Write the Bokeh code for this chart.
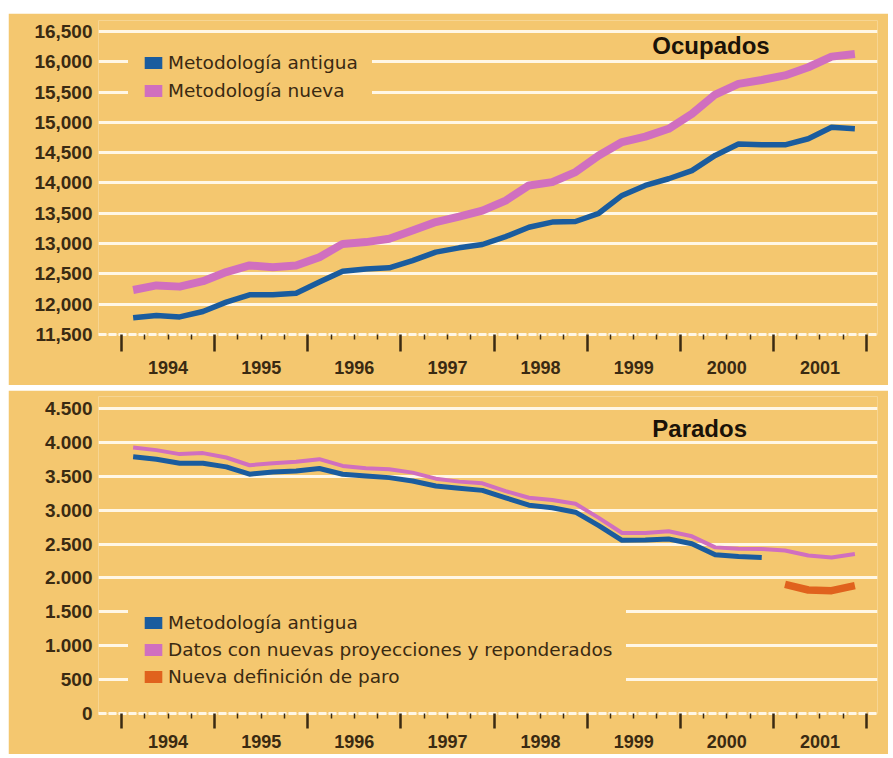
from bokeh.plotting import figure
from bokeh.models import (FixedTicker, LinearAxis, Range1d, Legend, LegendItem,
                          Label, Spacer, Grid)
from bokeh.layouts import column, row
from bokeh.embed import file_html
from bokeh.resources import INLINE

# ---------------- data ----------------
years = list(range(1994, 2002))
quarters = [(y, q) for y in years for q in range(1, 5)]          # 1994T1 .. 2001T4

ocup_antigua = [11775, 11815, 11790, 11880, 12035, 12155, 12155, 12180,
                12365, 12545, 12580, 12600, 12720, 12860, 12930, 12985,
                13115, 13270, 13355, 13365, 13500, 13795, 13960, 14070,
                14205, 14455, 14645, 14630, 14630, 14730, 14920, 14895]
ocup_nueva = [12235, 12310, 12290, 12380, 12530, 12640, 12610, 12640,
              12775, 12995, 13025, 13080, 13215, 13355, 13445, 13545,
              13710, 13960, 14015, 14180, 14455, 14675, 14765, 14895,
              15140, 15460, 15635, 15700, 15775, 15910, 16085, 16130]

par_antigua = [3787, 3752, 3693, 3693, 3639, 3530, 3564, 3579,
               3614, 3530, 3505, 3480, 3431, 3356, 3322, 3292,
               3183, 3074, 3035, 2970, 2772, 2555, 2560, 2574,
               2505, 2342, 2317, 2302]                             # hasta 2000T4
par_nueva = [3926, 3886, 3827, 3842, 3777, 3663, 3693, 3713,
             3752, 3653, 3619, 3604, 3554, 3465, 3421, 3396,
             3282, 3183, 3149, 3094, 2886, 2663, 2663, 2688,
             2614, 2451, 2431, 2426, 2406, 2332, 2302, 2352]
par_nueva_def = [1906, 1822, 1812, 1886]                          # 2001T1 .. 2001T4

ocup_ticks = [11500, 12000, 12500, 13000, 13500, 14000, 14500, 15000, 15500, 16000, 16500]
ocup_tick_labels = ["11,500", "12,000", "12,500", "13,000", "13,500", "14,000",
                    "14,500", "15,000", "15,500", "16,000", "16,500"]
par_ticks = [0, 500, 1000, 1500, 2000, 2500, 3000, 3500, 4000, 4500]
par_tick_labels = ["0", "500", "1.000", "1.500", "2.000", "2.500", "3.000",
                   "3.500", "4.000", "4.500"]

leg_ocup = ["Metodología antigua", "Metodología nueva"]
leg_par = ["Metodología antigua", "Datos con nuevas proyecciones y reponderados",
           "Nueva definición de paro"]

# ---------------- style ----------------
BG = "#F4C76F"
GRID = "#FFF7E6"
TXT = "#3A2A12"
BLUE = "#1A5C9E"
PINK = "#D06FBF"
ORANGE = "#E0621D"
NAN = float("nan")

xq = [y + (q - 0.5) / 4 for (y, q) in quarters]
year_bounds = years + [years[-1] + 1]
minor_bounds = [y + f for y in years for f in (0.25, 0.5, 0.75)]
mid_years = [y + 0.5 for y in years]
X0, X1 = 1993.753, 2002.118


def make_panel(height, ymin, ymax, ticks, tick_labels, bt, bb, tick_len, lab_standoff):
    p = figure(width=880, height=height, x_range=Range1d(X0, X1),
               y_range=Range1d(ymin, ymax), output_backend="svg",
               toolbar_location=None, x_axis_type=None, y_axis_type=None,
               min_border_left=90, min_border_right=11, min_border_top=bt,
               min_border_bottom=bb, background_fill_color=BG,
               border_fill_color=BG, outline_line_color=None)
    grid = Grid(dimension=1, ticker=FixedTicker(ticks=ticks),
                grid_line_color=GRID, grid_line_width=2.8)
    p.add_layout(grid)

    yax = LinearAxis(ticker=FixedTicker(ticks=ticks),
                     major_label_overrides=dict(zip(ticks, tick_labels)),
                     axis_line_color=None, major_tick_line_color=None,
                     minor_tick_line_color=None, major_label_standoff=0,
                     major_label_text_font="Liberation Sans",
                     major_label_text_font_style="bold",
                     major_label_text_font_size="19px",
                     major_label_text_color=TXT)
    p.add_layout(yax, "left")

    tax = LinearAxis(ticker=FixedTicker(ticks=year_bounds, minor_ticks=minor_bounds),
                     major_tick_out=tick_len, major_tick_in=0,
                     minor_tick_out=5, minor_tick_in=0,
                     major_tick_line_color=TXT, major_tick_line_width=2.5,
                     minor_tick_line_color=TXT, minor_tick_line_width=1.5,
                     axis_line_color=GRID, axis_line_width=2.8,
                     axis_line_dash="8 2",
                     major_label_text_color=None,
                     major_label_text_font_size="1px", major_label_standoff=0)
    p.add_layout(tax, "below")

    lax = LinearAxis(ticker=FixedTicker(ticks=mid_years, minor_ticks=[]),
                     major_label_overrides={m: str(y) for m, y in zip(mid_years, years)},
                     major_tick_out=0, major_tick_in=0, major_tick_line_color=None,
                     minor_tick_line_color=None, axis_line_color=None,
                     major_label_standoff=lab_standoff,
                     major_label_text_font="Liberation Sans",
                     major_label_text_font_style="bold",
                     major_label_text_font_size="18px",
                     major_label_text_color=TXT)
    p.add_layout(lax, "below")
    return p


def add_legend(p, labels, colors, loc, spacing):
    items = []
    for lab, c in zip(labels, colors):
        # legend-only swatch: NaN geometry draws nothing inside the plot
        r = p.quad(left=[NAN], right=[NAN], top=[NAN], bottom=[NAN],
                   fill_color=c, line_color=None)
        items.append(LegendItem(label=lab, renderers=[r]))
    leg = Legend(items=items, location=loc, glyph_width=22, glyph_height=15,
                 label_standoff=4, padding=13, spacing=spacing, margin=0,
                 background_fill_color=BG, background_fill_alpha=1.0,
                 border_line_color=BG, border_line_width=1,
                 label_text_font="DejaVu Sans",
                 label_text_font_size="18.5px", label_text_color=TXT)
    p.add_layout(leg)


# ---------------- Ocupados ----------------
p1 = make_panel(372, 11500, 16681.5, ocup_ticks, ocup_tick_labels, 7, 51, 17, 9)
p1.line(xq, ocup_antigua, line_color=BLUE, line_width=5.5, line_join="round")
p1.line(xq, ocup_nueva, line_color=PINK, line_width=8, line_join="round")
add_legend(p1, leg_ocup, [BLUE, PINK], (30, 219), 7)
p1.add_layout(Label(x=1999.70, y=16268, text="Ocupados", text_font="Liberation Sans",
                    text_font_style="bold", text_font_size="24px",
                    text_baseline="middle", text_align="left", text_color="#1A1208"))

# ---------------- Parados ----------------
p2 = make_panel(364, 0, 4677, par_ticks, par_tick_labels, 6, 41, 15, 6)
p2.line(xq[:len(par_antigua)], par_antigua, line_color=BLUE, line_width=5, line_join="round")
p2.line(xq, par_nueva, line_color=PINK, line_width=4, line_join="round")
p2.line(xq[-len(par_nueva_def):], par_nueva_def, line_color=ORANGE, line_width=7.5,
        line_join="round")
add_legend(p2, leg_par, [BLUE, PINK, ORANGE], (30, 12), 6)
p2.add_layout(Label(x=1999.70, y=4205, text="Parados", text_font="Liberation Sans",
                    text_font_style="bold", text_font_size="24px",
                    text_baseline="middle", text_align="left", text_color="#1A1208"))

layout = row(Spacer(width=8, height=754),
             column(Spacer(width=880, height=13), p1, Spacer(width=880, height=5), p2))

with open("out.html", "w") as f:
    f.write(file_html(layout, INLINE))
